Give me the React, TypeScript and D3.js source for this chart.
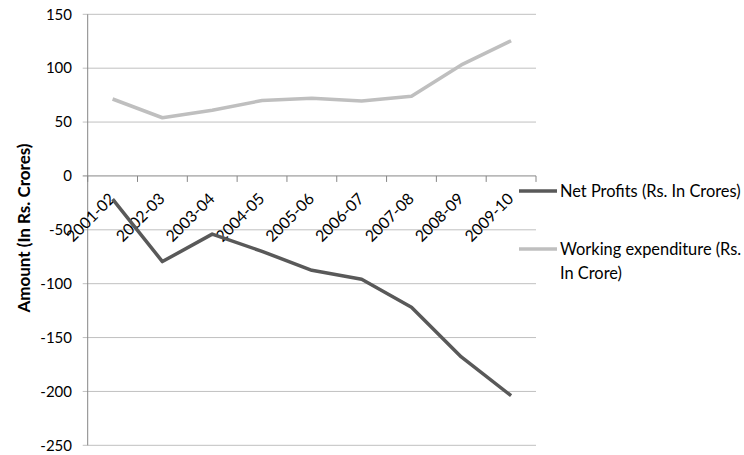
import React from "react";
import * as d3 from "d3";

const categories = ["2001-02", "2002-03", "2003-04", "2004-05", "2005-06", "2006-07", "2007-08", "2008-09", "2009-10"];
const netProfits = [-21.6, -79.5, -54, -70, -87.6, -95.9, -121.8, -168, -204];
const workingExp = [71.4, 54, 61, 70, 72, 69.6, 74, 103, 125.5];
const yTicks = [150, 100, 50, 0, -50, -100, -150, -200, -250];
const seriesNames = ["Net Profits (Rs. In Crores)", "Working expenditure (Rs.", "In Crore)"];

const W = 744, H = 455;
const left = 87.7, right = 536, top = 14.3, bottom = 445.3;
const FONT = "Lato, 'Open Sans', sans-serif";
const FS = 15;
const LFS = 16.4;

export default function App() {
  const x = d3.scaleBand<string>().domain(categories).range([left, right]);
  const y = d3.scaleLinear().domain([-250, 150]).range([bottom, top]);
  const cx = (c: string) => (x(c) as number) + x.bandwidth() / 2;
  const line = d3.line<number>().x((_, i) => cx(categories[i])).y((v) => y(v));
  const y0 = y(0);
  const boundaries = d3.range(categories.length + 1).map((i) => left + i * x.bandwidth());
  return (
    <svg width={W} height={H} style={{ position: "absolute", left: 0, top: 0, background: "#fff" }} fontFamily={FONT}>
      {yTicks.map((t) => (
        <g key={t}>
          <line x1={left - 5} x2={right} y1={y(t)} y2={y(t)} stroke={t === 0 ? "#868686" : "#c0c0c0"} strokeWidth={1} />
          <text x={72} y={y(t)} dy="0.35em" textAnchor="end" fontSize={FS} fill="#000">{t}</text>
        </g>
      ))}
      <line x1={left} x2={left} y1={top} y2={bottom} stroke="#868686" />
      {boundaries.map((b, i) => (
        <line key={i} x1={b} x2={b} y1={y0} y2={y0 + 6} stroke="#868686" />
      ))}
      {categories.map((c) => (
        <text key={c} transform={`translate(${cx(c) - 0.5},${y0 + 20}) rotate(-45)`} textAnchor="end" dy="0.35em" fontSize={15.8} fill="#000">{c}</text>
      ))}
      <path d={line(workingExp) || ""} fill="none" stroke="#bfbfbf" strokeWidth={3.5} strokeLinejoin="round" />
      <path d={line(netProfits) || ""} fill="none" stroke="#595959" strokeWidth={3.5} strokeLinejoin="round" />
      <text transform={`translate(24,228) rotate(-90)`} textAnchor="middle" fontSize={17} fontWeight="bold" dy="0.35em">Amount (In Rs. Crores)</text>
      <line x1={519} x2={557} y1={191} y2={191} stroke="#595959" strokeWidth={3.5} />
      <text x={560} y={191} dy="0.35em" fontSize={LFS}>{seriesNames[0]}</text>
      <line x1={519} x2={557} y1={249} y2={249} stroke="#bfbfbf" strokeWidth={3.5} />
      <text x={560} y={249} dy="0.35em" fontSize={LFS}>{seriesNames[1]}</text>
      <text x={560} y={273} dy="0.35em" fontSize={LFS}>{seriesNames[2]}</text>
    </svg>
  );
}
